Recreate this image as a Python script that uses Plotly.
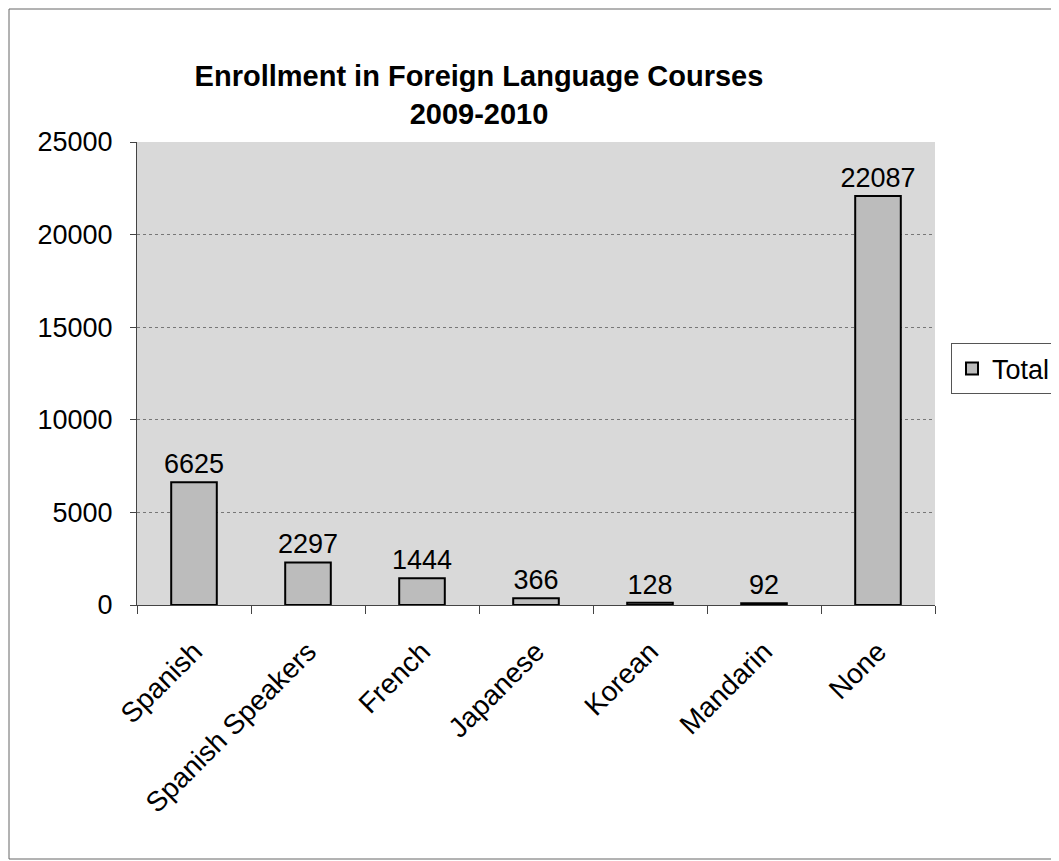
import plotly.graph_objects as go

categories = ["Spanish", "Spanish Speakers", "French", "Japanese", "Korean", "Mandarin", "None"]
values = [6625, 2297, 1444, 366, 128, 92, 22087]
y_ticks = [0, 5000, 10000, 15000, 20000, 25000]

FONT = "Arial, Liberation Sans, sans-serif"
W, H = 1051, 853
L, R, T, B = 129, 124, 134, 256
pw, ph = W - L - R, H - T - B

fig = go.Figure()
fig.add_trace(go.Bar(
    x=categories, y=values, name="Total",
    marker=dict(color="#bcbcbc", line=dict(color="black", width=2)),
    text=[str(v) for v in values], textposition="outside",
    textfont=dict(family=FONT, size=27, color="black"),
    cliponaxis=False,
))

fig.update_layout(
    width=W, height=H,
    paper_bgcolor="white", plot_bgcolor="#d9d9d9",
    margin=dict(l=L, r=R, t=T, b=B, autoexpand=False),
    bargap=0.6,
    uniformtext=dict(minsize=27, mode="show"),
    showlegend=True,
    legend=dict(x=(951 - 8 - L) / pw, y=0.51, xanchor="left", yanchor="middle",
                bordercolor="#555", borderwidth=1,
                font=dict(family=FONT, size=27, color="black")),
    title=dict(text="<b>Enrollment in Foreign Language Courses<br>2009-2010</b>",
               x=471 / W, xref="container", xanchor="center",
               y=1 - 78 / H, yref="container", yanchor="top",
               font=dict(family=FONT, size=29, color="black")),
    font=dict(family=FONT, color="black"),
)
fig.update_xaxes(tickangle=-45, tickfont=dict(size=28), showline=True, linecolor="#444",
                 ticks="outside", ticklen=8, tickson="boundaries", tickcolor="#444",
                 ticklabelstandoff=18)
fig.update_yaxes(range=[0, 25000], tickvals=y_ticks, tickformat="d", tickfont=dict(size=27),
                 showline=True, linecolor="#444", ticks="outside", ticklen=6, tickcolor="#444",
                 ticklabelstandoff=12,
                 showgrid=True, gridcolor="#777", griddash="dot", gridwidth=1, zeroline=False)

fig.add_shape(type="rect", xref="paper", yref="paper",
              x0=-(L - 1) / pw, x1=(W - L - 1) / pw,
              y0=-(B - 2) / ph, y1=1 + (T - 1) / ph,
              line=dict(color="#666", width=1))
fig.write_html("out.html")
